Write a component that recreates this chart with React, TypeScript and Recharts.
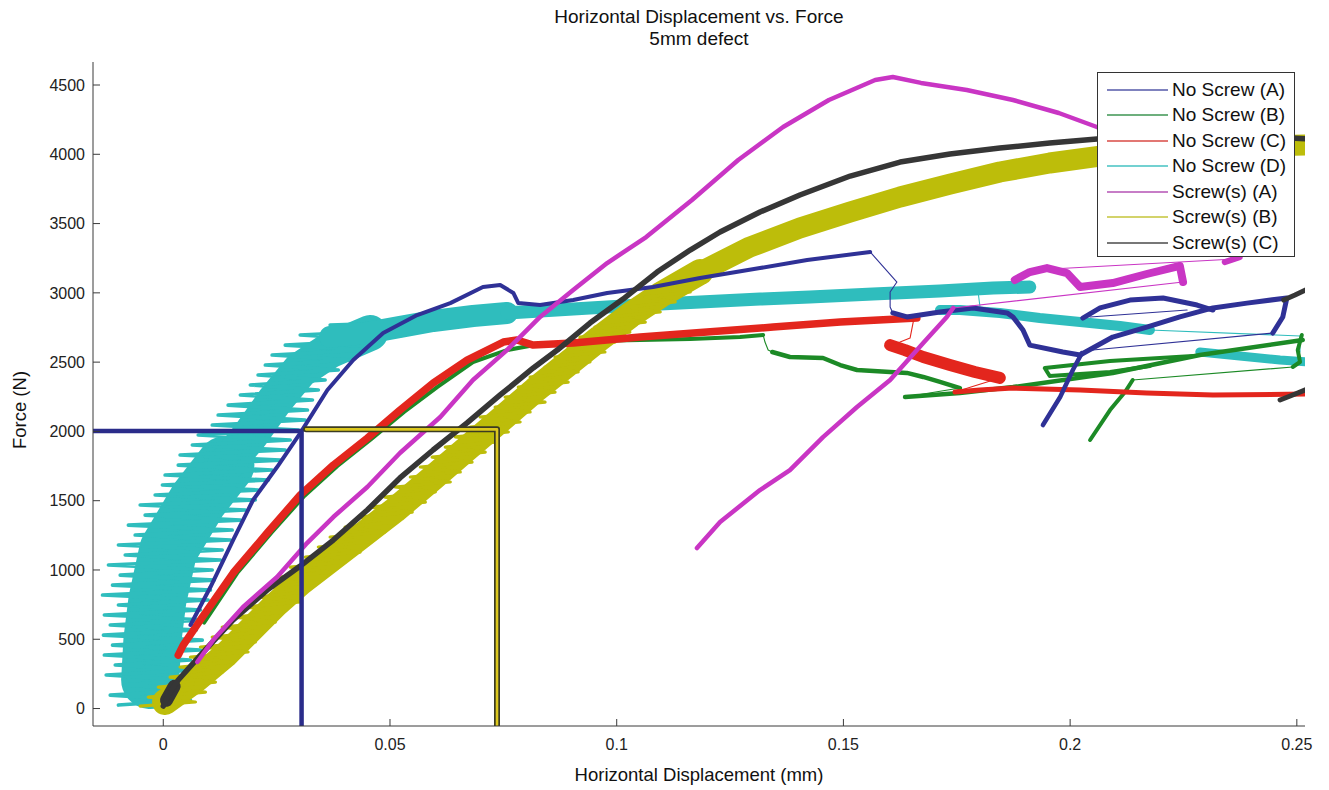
import React from 'react';
import { ComposedChart, Line, XAxis, YAxis } from 'recharts';

type P = [number, number];

// ---------- axes ----------
const xTicks = [0, 0.05, 0.1, 0.15, 0.2, 0.25];
const xTickLabels = ['0', '0.05', '0.1', '0.15', '0.2', '0.25'];
const yTicks = [0, 500, 1000, 1500, 2000, 2500, 3000, 3500, 4000, 4500];
const xDomain: [number, number] = [-0.0155, 0.2518];
const yDomain: [number, number] = [-126, 4666];

const titleLines = ['Horizontal Displacement vs. Force', '5mm defect'];
const xLabel = 'Horizontal Displacement (mm)';
const yLabel = 'Force (N)';
const seriesNames = ['No Screw (A)', 'No Screw (B)', 'No Screw (C)', 'No Screw (D)', 'Screw(s) (A)', 'Screw(s) (B)', 'Screw(s) (C)'];

// ---------- No Screw (A) ----------
const noScrewA_main: P[] = [[0.0060,603],[0.0104,877],[0.0154,1216],[0.0198,1505],[0.0251,1743],[0.0302,1988],[0.0362,2299],[0.0419,2515],[0.0485,2710],[0.0560,2840],[0.0633,2926],[0.0705,3042],[0.0743,3057],[0.0772,2999],[0.0783,2926],[0.0831,2912],[0.0904,2948],[0.0979,2999],[0.1080,3042],[0.1184,3107],[0.1316,3179],[0.1420,3237],[0.1559,3295]];
const noScrewA_post: P[] = [[0.1609,2855],[0.1640,2826],[0.1713,2862],[0.1786,2891],[0.1861,2855],[0.1874,2826],[0.1896,2732],[0.1911,2623],[0.1984,2573],[0.2022,2551],[0.2094,2681],[0.2169,2753],[0.2242,2826],[0.2315,2891],[0.2390,2926],[0.2478,2963],[0.2469,2826],[0.2447,2710]];
const noScrewA_reload: P[] = [[0.1940,2046],[0.1978,2248],[0.2006,2443],[0.2026,2566]];
const noScrewA_arc: P[] = [[0.2028,2818],[0.2066,2891],[0.2132,2948],[0.2205,2963],[0.2280,2912],[0.2315,2876]];
const noScrewA_jumps: P[][] = [
  [[0.1559,3295],[0.1618,3078],[0.1603,3006],[0.1603,2898],[0.1609,2855]],
  [[0.2447,2710],[0.2050,2587]],
  [[0.2044,2826],[0.2258,2876]],
];

// ---------- No Screw (B) ----------
const noScrewB_main: P[] = [[0.0090,620],[0.0163,978],[0.0238,1267],[0.0311,1534],[0.0384,1750],[0.0459,1945],[0.0531,2140],[0.0604,2320],[0.0683,2501],[0.0758,2587],[0.0831,2631],[0.0941,2652],[0.1052,2660],[0.1162,2667],[0.1272,2681],[0.1323,2696]];
const noScrewB_drop: P[] = [[0.1343,2573],[0.1382,2537],[0.1455,2530],[0.1493,2479],[0.1530,2443],[0.1603,2429],[0.1640,2422],[0.1676,2393],[0.1713,2357],[0.1757,2313]];
const noScrewB_long: P[] = [[0.1636,2248],[0.1757,2277],[0.1874,2320],[0.2094,2421],[0.2286,2551],[0.2513,2660]];
const noScrewB_loop: P[] = [[0.2271,2544],[0.2088,2508],[0.1944,2458],[0.1955,2400],[0.2088,2429],[0.2176,2472]];
const noScrewB_edge: P[] = [[0.2511,2696],[0.2502,2587],[0.2507,2501],[0.2491,2465]];
const noScrewB_reload: P[] = [[0.2044,1938],[0.2088,2154],[0.2121,2284],[0.2138,2371]];
const noScrewB_jumps: P[][] = [
  [[0.1323,2696],[0.1327,2645],[0.1334,2587],[0.1343,2573]],
  [[0.1757,2313],[0.1636,2248]],
  [[0.2138,2371],[0.2491,2465]],
];

// ---------- No Screw (C) ----------
const noScrewC_main: P[] = [[0.0033,386],[0.0044,458],[0.0082,639],[0.0154,978],[0.0229,1267],[0.0302,1541],[0.0375,1757],[0.0450,1952],[0.0522,2154],[0.0595,2349],[0.0670,2515],[0.0750,2645],[0.0780,2660],[0.0816,2623],[0.0904,2638],[0.1052,2681],[0.1199,2717],[0.1345,2753],[0.1493,2789],[0.1662,2818]];
const noScrewC_blob: P[] = [[0.1603,2623],[0.1636,2587],[0.1676,2537],[0.1735,2479],[0.1790,2429],[0.1845,2386]];
const noScrewC_low: P[] = [[0.1746,2284],[0.1801,2299],[0.1874,2313],[0.2022,2299],[0.2169,2277],[0.2315,2263],[0.2529,2270]];
const noScrewC_jumps: P[][] = [
  [[0.1662,2818],[0.1654,2790],[0.1647,2674],[0.1625,2645],[0.1603,2623]],
  [[0.1845,2386],[0.1746,2284]],
];

// ---------- No Screw (D) ----------
const noScrewD_rise: P[] = [[-0.0099,25],[0.0060,61],[-0.0117,97],[0.0071,134],[-0.0084,170],[0.0049,206],[-0.0126,242],[0.0077,278],[-0.0106,314],[0.0060,350],[-0.0130,386],[0.0082,422],[-0.0112,458],[0.0086,494],[-0.0132,530],[0.0073,567],[-0.0117,603],[0.0093,639],[-0.0130,675],[0.0082,711],[-0.0099,747],[0.0099,783],[-0.0134,819],[0.0104,855],[-0.0112,891],[0.0112,927],[-0.0095,963],[0.0108,1000],[-0.0121,1036],[0.0126,1072],[-0.0084,1108],[0.0130,1144],[-0.0099,1180],[0.0148,1216],[-0.0062,1252],[0.0152,1288],[-0.0077,1324],[0.0170,1360],[-0.0040,1396],[0.0181,1433],[-0.0051,1469],[0.0203,1505],[-0.0018,1541],[0.0209,1577],[-0.0002,1613],[0.0232,1649],[0.0004,1685],[0.0240,1721],[0.0033,1757],[0.0258,1793],[0.0037,1830],[0.0269,1866],[0.0064,1902],[0.0280,1938],[0.0077,1974],[0.0298,2010],[0.0108,2046],[0.0313,2082],[0.0121,2118],[0.0318,2154],[0.0143,2190],[0.0329,2227],[0.0170,2263],[0.0342,2299],[0.0192,2335],[0.0357,2371],[0.0209,2407],[0.0386,2443],[0.0225,2479],[0.0412,2515],[0.0240,2551],[0.0445,2587],[0.0269,2623],[0.0478,2660],[0.0302,2696],[0.0523,2732],[0.0368,2768],[0.0567,2790]];
const noScrewD_coreLow: P[] = [[-0.0029,206],[-0.0024,494],[-0.0013,783],[0.0011,1144],[0.0077,1505],[0.0137,1757]];
const noScrewD_coreHigh: P[] = [[0.0137,1757],[0.0192,1974],[0.0247,2227],[0.0302,2443],[0.0368,2587],[0.0456,2710]];
const noScrewD_bandA: P[] = [[0.0368,2682],[0.0450,2711],[0.0523,2754],[0.0595,2797],[0.0683,2833],[0.0758,2855]];
const noScrewD_bandB: P[] = [[0.0758,2855],[0.0904,2883],[0.1052,2912],[0.1184,2934],[0.1316,2955],[0.1426,2970],[0.1565,2991],[0.1713,3013],[0.1830,3035],[0.1911,3042]];
const noScrewD_second: P[] = [[0.1713,2876],[0.1757,2876],[0.1845,2855],[0.1933,2818],[0.2022,2789],[0.2110,2761],[0.2176,2732]];
const noScrewD_end: P[] = [[0.2286,2573],[0.2374,2544],[0.2463,2515],[0.2529,2501]];
const noScrewD_jumps: P[][] = [
  [[0.1797,3006],[0.1801,2905]],
  [[0.2176,2732],[0.2507,2689],[0.2507,2573]],
];

// ---------- Screw(s) (A) ----------
const screwA_main: P[] = [[0.0075,336],[0.0110,494],[0.0176,733],[0.0251,949],[0.0317,1194],[0.0375,1382],[0.0450,1599],[0.0522,1844],[0.0611,2104],[0.0683,2371],[0.0758,2587],[0.0831,2826],[0.0904,3021],[0.0979,3215],[0.1065,3403],[0.1166,3670],[0.1268,3959],[0.1367,4197],[0.1468,4392],[0.1570,4536],[0.1609,4558],[0.1671,4515],[0.1772,4464],[0.1874,4392],[0.1975,4298],[0.2059,4197],[0.2176,4100]];
const screwA_reload: P[] = [[0.1177,1158],[0.1228,1346],[0.1316,1577],[0.1382,1721],[0.1455,1959],[0.1530,2176],[0.1603,2371],[0.1676,2638],[0.1728,2826],[0.1742,2891]];
const screwA_wiggle: P[] = [[0.1878,3093],[0.1911,3150],[0.1949,3179],[0.1993,3143],[0.2022,3042],[0.2094,3071],[0.2169,3136],[0.2242,3194],[0.2249,3078]];
const screwA_tail: P[] = [[0.2341,3222],[0.2374,3258]];
const screwA_jumps: P[][] = [
  [[0.1742,2891],[0.2249,3078]],
  [[0.1949,3170],[0.2363,3244]],
];

// ---------- Screw(s) (B) ----------
const screwB_coreLow: P[] = [[0.0004,47],[0.0071,206],[0.0137,386],[0.0192,567],[0.0247,747],[0.0302,906],[0.0368,1072],[0.0434,1238],[0.0511,1433],[0.0589,1649],[0.0666,1866],[0.0743,2082],[0.0820,2299],[0.0897,2501],[0.0963,2674],[0.1030,2840],[0.1096,2984],[0.1184,3150]];
const screwB_coreHigh: P[] = [[0.1184,3150],[0.1294,3331],[0.1404,3468],[0.1515,3583],[0.1625,3692],[0.1735,3785],[0.1845,3872],[0.1955,3937],[0.2066,3987],[0.2176,4024],[0.2286,4045],[0.2396,4060],[0.2529,4067]];
const screwB_spread: P[] = [[-0.0051,18],[0.0071,47],[-0.0033,83],[0.0093,119],[-0.0011,155],[0.0115,191],[0.0015,227],[0.0130,263],[0.0037,300],[0.0152,336],[0.0060,372],[0.0187,408],[0.0082,444],[0.0203,480],[0.0108,516],[0.0218,552],[0.0130,588],[0.0247,624],[0.0159,660],[0.0265,696],[0.0181,733],[0.0302,769],[0.0209,805],[0.0313,841],[0.0232,877],[0.0342,913],[0.0258,949],[0.0368,985],[0.0280,1021],[0.0401,1057],[0.0313,1093],[0.0434,1129],[0.0342,1166],[0.0452,1202],[0.0368,1238],[0.0489,1274],[0.0401,1310],[0.0511,1346],[0.0430,1382],[0.0549,1418],[0.0456,1454],[0.0578,1490],[0.0489,1526],[0.0600,1563],[0.0511,1599],[0.0633,1635],[0.0545,1671],[0.0655,1707],[0.0567,1743],[0.0681,1779],[0.0593,1815],[0.0710,1851],[0.0622,1887],[0.0732,1923],[0.0644,1960],[0.0761,1996],[0.0677,2032],[0.0787,2068],[0.0699,2104],[0.0809,2140],[0.0732,2176],[0.0842,2212],[0.0754,2248],[0.0864,2284],[0.0783,2320],[0.0893,2356],[0.0809,2392],[0.0915,2429],[0.0842,2465],[0.0941,2501],[0.0864,2537],[0.0974,2573],[0.0893,2609],[0.0996,2645],[0.0919,2681],[0.1029,2717],[0.0952,2753],[0.1063,2789],[0.0985,2826],[0.1096,2862],[0.1025,2898],[0.1129,2934],[0.1063,2970],[0.1162,3006],[0.1096,3042],[0.1195,3078]];

// ---------- Screw(s) (C) ----------
const screwC_start: P[] = [[0.0007,60],[0.0024,160]];
const screwC_main: P[] = [[0,18],[0.0011,97],[0.0033,206],[0.0082,386],[0.0154,639],[0.0229,855],[0.0302,1028],[0.0375,1216],[0.0450,1433],[0.0522,1664],[0.0595,1866],[0.0670,2061],[0.0743,2263],[0.0816,2458],[0.0869,2587],[0.0941,2782],[0.1014,2955],[0.1089,3150],[0.1162,3309],[0.1228,3439],[0.1316,3583],[0.1404,3706],[0.1515,3843],[0.1625,3944],[0.1735,4002],[0.1845,4045],[0.1955,4081],[0.2059,4110],[0.2176,4124],[0.2286,4132],[0.2396,4132],[0.2529,4110]];
const screwC_edgeHigh: P[] = [[0.2471,2948],[0.2496,2984],[0.2529,3035]];
const screwC_edgeLow: P[] = [[0.2463,2227],[0.2491,2263],[0.2529,2313]];

// ---------- marker lines ----------
const markerNoScrew: P[] = [[-0.0155,2003],[0.0305,2003],[0.0305,-126]];
const markerScrew: P[] = [[0.0315,2015],[0.0736,2015],[0.0736,-126]];

// ---------- styling ----------
const FONT = '"Liberation Sans", Arial, Helvetica, sans-serif';
const AXIS = '#3a3a3a';
const BLUE = '#2f3196';
const GREEN = '#1c8a26';
const RED = '#e3261d';
const CYAN = '#2fbdbd';
const MAG = '#c935c4';
const YEL = '#bdbd0a';
const BLK = '#363636';
const legendColors = ['#5458a8', '#3d9452', '#d84a44', '#45c2c2', '#b552b5', '#c4c43a', '#4a4a4a'];

type Piece = { pts: P[]; color: string; width: number };
const thin = 1.1;
const pieces: Piece[] = [
  { pts: noScrewD_coreLow, color: CYAN, width: 58 },
  { pts: noScrewD_coreHigh, color: CYAN, width: 36 },
  { pts: noScrewD_rise, color: CYAN, width: 3.6 },
  { pts: noScrewD_bandA, color: CYAN, width: 22 },
  { pts: noScrewD_bandB, color: CYAN, width: 13 },
  { pts: noScrewD_second, color: CYAN, width: 10 },
  { pts: noScrewD_end, color: CYAN, width: 9 },
  ...noScrewD_jumps.map((pts) => ({ pts, color: CYAN, width: thin })),
  { pts: screwB_coreLow, color: YEL, width: 26 },
  { pts: screwB_coreHigh, color: YEL, width: 21 },
  { pts: screwB_spread, color: YEL, width: 3.2 },
  { pts: noScrewB_main, color: GREEN, width: 4 },
  { pts: noScrewB_drop, color: GREEN, width: 4.5 },
  { pts: noScrewB_long, color: GREEN, width: 4.5 },
  { pts: noScrewB_loop, color: GREEN, width: 4 },
  { pts: noScrewB_edge, color: GREEN, width: 4 },
  { pts: noScrewB_reload, color: GREEN, width: 4 },
  ...noScrewB_jumps.map((pts) => ({ pts, color: GREEN, width: thin })),
  { pts: noScrewC_main, color: RED, width: 7.5 },
  { pts: noScrewC_blob, color: RED, width: 12 },
  { pts: noScrewC_low, color: RED, width: 5 },
  ...noScrewC_jumps.map((pts) => ({ pts, color: RED, width: thin })),
  { pts: noScrewA_main, color: BLUE, width: 4 },
  { pts: noScrewA_post, color: BLUE, width: 5 },
  { pts: noScrewA_reload, color: BLUE, width: 4.5 },
  { pts: noScrewA_arc, color: BLUE, width: 5 },
  ...noScrewA_jumps.map((pts) => ({ pts, color: BLUE, width: thin })),
  { pts: screwC_start, color: BLK, width: 13 },
  { pts: screwC_main, color: BLK, width: 5.5 },
  { pts: screwC_edgeHigh, color: BLK, width: 5 },
  { pts: screwC_edgeLow, color: BLK, width: 5 },
  { pts: screwA_main, color: MAG, width: 4.5 },
  { pts: screwA_reload, color: MAG, width: 4.5 },
  { pts: screwA_wiggle, color: MAG, width: 8 },
  { pts: screwA_tail, color: MAG, width: 6 },
  ...screwA_jumps.map((pts) => ({ pts, color: MAG, width: thin })),
  { pts: markerNoScrew, color: '#2a2c8a', width: 4.5 },
  { pts: markerScrew, color: '#3b3b22', width: 6 },
  { pts: markerScrew, color: '#dcc81e', width: 2.6 },
];

const toRows = (pts: P[]) => pts.map(([x, y]) => ({ x, y }));

function LegendBox() {
  return (
    <div
      style={{
        position: 'absolute', left: 1097, top: 72, width: 198, height: 185,
        border: '1px solid #333', background: '#fff', boxSizing: 'border-box',
        paddingTop: 4, fontFamily: FONT, fontSize: 19, color: '#111', zIndex: 2,
      }}
    >
      {seriesNames.map((n, i) => (
        <div key={n} style={{ display: 'flex', alignItems: 'center', height: 25.5, whiteSpace: 'nowrap' }}>
          <svg width={74} height={6} style={{ flex: 'none' }}>
            <line x1={9} x2={70} y1={3} y2={3} stroke={legendColors[i]} strokeWidth={1.6} />
          </svg>
          <span style={{ marginLeft: 0 }}>{n}</span>
        </div>
      ))}
    </div>
  );
}

export default function App() {
  return (
    <div style={{ position: 'absolute', left: 0, top: 0, width: 1329, height: 790, background: '#fff', fontFamily: FONT, color: '#111' }}>
      <div style={{ position: 'absolute', left: 449, width: 500, top: 6, textAlign: 'center', fontSize: 19, lineHeight: '22px' }}>
        {titleLines.map((t) => (<div key={t}>{t}</div>))}
      </div>
      <div style={{ position: 'absolute', left: 449, width: 500, top: 764, textAlign: 'center', fontSize: 18.5, lineHeight: '22px' }}>{xLabel}</div>
      <div style={{ position: 'absolute', left: -80, width: 200, top: 399, textAlign: 'center', fontSize: 18.5, lineHeight: '22px', transform: 'rotate(-90deg)' }}>{yLabel}</div>
      <ComposedChart width={1329} height={790} margin={{ top: 62, right: 24, bottom: 24, left: 13 }}>
        <XAxis dataKey="x" type="number" domain={xDomain} allowDataOverflow ticks={xTicks} interval={0}
          tickFormatter={(v: number) => { const i = xTicks.indexOf(v); return i >= 0 ? xTickLabels[i] : String(v); }}
          height={40} tickSize={-7} tickMargin={20} stroke={AXIS}
          tick={{ fill: '#222', fontSize: 16, fontFamily: FONT }} />
        <XAxis xAxisId="top" orientation="top" dataKey="x" type="number" domain={xDomain} allowDataOverflow ticks={xTicks} interval={0}
          height={0} tickSize={-7} tick={false} stroke={AXIS} />
        <YAxis type="number" domain={yDomain} allowDataOverflow ticks={yTicks} interval={0} width={80}
          tickSize={-7} tickMargin={15} stroke={AXIS} tick={{ fill: '#222', fontSize: 16, fontFamily: FONT }} />
        <YAxis yAxisId="right" orientation="right" type="number" domain={yDomain} allowDataOverflow ticks={yTicks} interval={0}
          width={0} tickSize={-7} tick={false} stroke={AXIS} />
        {pieces.map((p, i) => (
          <Line key={'s' + i} data={toRows(p.pts)} dataKey="y" type="linear" stroke={p.color} strokeWidth={p.width}
            strokeLinejoin="round" strokeLinecap="round" dot={false} activeDot={false}
            isAnimationActive={false} legendType="none" />
        ))}
      </ComposedChart>
      <LegendBox />
    </div>
  );
}
